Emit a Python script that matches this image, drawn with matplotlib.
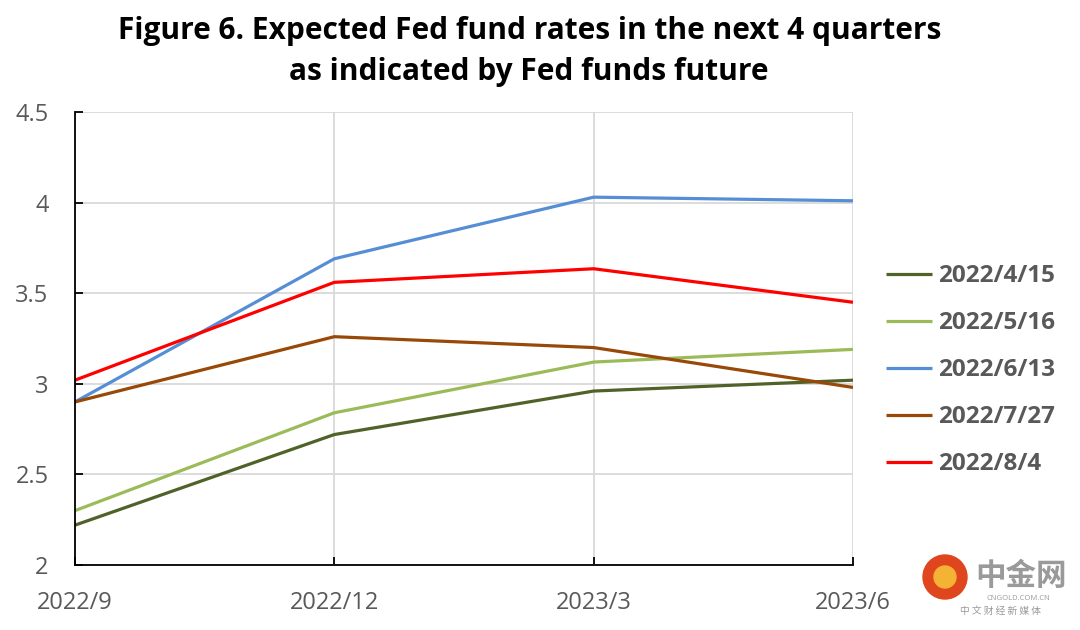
import numpy as np
import matplotlib
matplotlib.use("Agg")
import matplotlib.pyplot as plt
from matplotlib.patches import Ellipse

# quarters and expected rates
quarters = ["2022/9", "2022/12", "2023/3", "2023/6"]
dates = ["2022/4/15", "2022/5/16", "2022/6/13", "2022/7/27", "2022/8/4"]
r_0415 = [2.22, 2.72, 2.96, 3.02]
r_0516 = [2.30, 2.84, 3.12, 3.19]
r_0613 = [2.90, 3.69, 4.03, 4.01]
r_0727 = [2.90, 3.26, 3.20, 2.98]
r_0804 = [3.02, 3.56, 3.635, 3.45]
colors = ["#4f6228", "#9bbb59", "#558ed5", "#984807", "#ff0000"]

series = [r_0415, r_0516, r_0613, r_0727, r_0804]

plt.rcParams['font.family'] = ['Open Sans', 'DejaVu Sans']

W, H = 1080, 630
fig = plt.figure(figsize=(W / 100, H / 100), dpi=100)
ax = fig.add_axes([75 / W, 1 - 565 / H, (853 - 75) / W, (565 - 112) / H])

x = np.arange(len(quarters))
for vals, lab, c in zip(series, dates, colors):
    ax.plot(x, vals, color=c, lw=2.3, label=lab, solid_capstyle="butt")

ax.set_xlim(0, len(quarters) - 1)
ax.set_ylim(2, 4.5)
ax.set_yticks([2, 2.5, 3, 3.5, 4, 4.5])
ax.set_yticklabels(["2", "2.5", "3", "3.5", "4", "4.5"])
ax.set_xticks(x)
ax.set_xticklabels(quarters)
ax.grid(True, color="#d9d9d9", lw=1.3)
ax.set_axisbelow(True)
for s in ["top", "right"]:
    ax.spines[s].set_visible(False)
for s in ["left", "bottom"]:
    ax.spines[s].set_color("black")
    ax.spines[s].set_linewidth(1.3)
ax.tick_params(direction="in", length=6, width=1.3, colors="black",
               labelcolor="#595959", labelsize=17)
ax.tick_params(axis="y", pad=19)
ax.tick_params(axis="x", pad=19)

leg = ax.legend(loc="center left", bbox_to_anchor=(1.03, 0.43), frameon=False,
                prop={"size": 17.5, "weight": "bold"}, handlelength=1.9,
                labelspacing=0.95, handletextpad=0.25, borderaxespad=0)
for t in leg.get_texts():
    t.set_color("#595959")

fig.text(0.49, 0.951, "Figure 6. Expected Fed fund rates in the next 4 quarters",
         ha="center", va="center", fontsize=21.5, fontweight="bold")
fig.text(0.49, 0.885, "as indicated by Fed funds future",
         ha="center", va="center", fontsize=21.5, fontweight="bold")

# watermark in the corner
logo = Ellipse((945 / W, 1 - 577 / H), 44 / W, 44 / H, transform=fig.transFigure,
               color="#e0461e", zorder=5)
fig.add_artist(logo)
inner = Ellipse((945 / W, 1 - 577 / H), 22 / W, 22 / H, transform=fig.transFigure,
                color="#f5b335", zorder=6)
fig.add_artist(inner)
fig.text(975 / W, 1 - 576 / H, "中金网", fontsize=22, fontweight="bold",
         color="#9a9a9a", family=["Noto Sans CJK SC", "DejaVu Sans"],
         ha="left", va="center")
fig.text(1018 / W, 1 - 599 / H, "CNGOLD.COM.CN", fontsize=5.5,
         color="#9a9a9a", ha="center", va="center")
fig.text(1000 / W, 1 - 611 / H, "中 文 财 经 新 媒 体", fontsize=7,
         color="#9a9a9a", family=["Noto Sans CJK SC", "DejaVu Sans"],
         ha="center", va="center")

fig.savefig("out.png", dpi=100)
